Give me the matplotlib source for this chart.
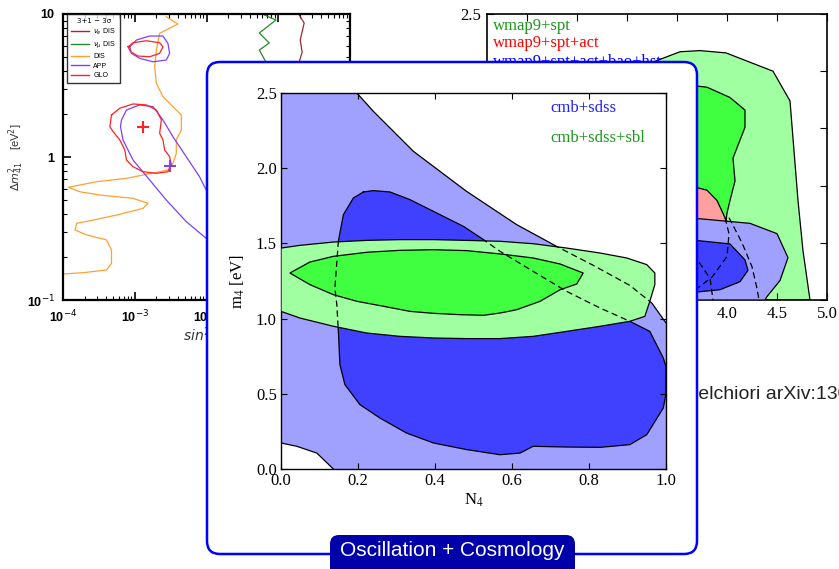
import numpy as np
import matplotlib.pyplot as plt
from matplotlib.patches import FancyBboxPatch, Polygon
from matplotlib.lines import Line2D

plt.rcParams['mathtext.fontset'] = 'stix'

# ---------------- 3+1 oscillation fit, 3 sigma (log10 sin^2, log10 dm^2_41) ----------------
dis_ls = [-2.560, -2.399, -2.653, -2.699, -2.722, -2.699, -2.607, -2.468, -2.351, -2.351,
          -2.421, -2.421, -2.468, -2.538, -2.653, -3.115, -3.532, -3.926, -3.764, -3.486,
          -3.024, -2.815, -2.885, -3.254, -3.579, -3.810, -3.833, -3.671, -3.393, -3.324,
          -3.324, -3.393, -3.718, -3.996]
dis_ldm = [0.981, 0.930, 0.865, 0.748, 0.631, 0.515, 0.422, 0.352, 0.294, 0.189,
           0.119, 0.026, -0.044, -0.091, -0.103, -0.149, -0.173, -0.212, -0.243, -0.266,
           -0.289, -0.324, -0.359, -0.406, -0.441, -0.464, -0.510, -0.545, -0.580, -0.650,
           -0.743, -0.790, -0.809, -0.818]

app_ls = [-2.004, -2.282, -2.560, -2.792, -3.024, -3.163, -3.199, -3.185, -3.115, -2.931,
          -2.746, -2.607, -2.468, -2.282, -2.097, -2.004]
app_ldm = [-0.569, -0.452, -0.301, -0.161, -0.021, 0.119, 0.212, 0.259, 0.329, 0.364,
           0.352, 0.259, 0.142, 0.002, -0.138, -0.231]
app_isl_ls = [-3.069, -2.976, -2.792, -2.607, -2.538, -2.514, -2.560, -2.746, -2.931, -3.046]
app_isl_ldm = [0.771, 0.818, 0.846, 0.846, 0.795, 0.725, 0.678, 0.666, 0.690, 0.725]

glo_ls = [-3.324, -3.208, -3.024, -2.838, -2.699, -2.629, -2.653, -2.607, -2.583, -2.514,
          -2.490, -2.538, -2.699, -2.885, -3.024, -3.115, -3.139, -3.208, -3.301, -3.347]
glo_ldm = [0.294, 0.341, 0.371, 0.364, 0.329, 0.259, 0.166, 0.119, 0.049, 0.002,
           -0.056, -0.103, -0.114, -0.103, -0.068, -0.021, 0.049, 0.119, 0.177, 0.212]
glo_isl_ls = [-3.093, -3.024, -2.838, -2.653, -2.607, -2.653, -2.792, -2.954, -3.060]
glo_isl_ldm = [0.771, 0.799, 0.813, 0.799, 0.771, 0.725, 0.701, 0.706, 0.736]

numu_ls = [-1.194, -1.032, -1.264, -1.125, -1.264, -1.171]
numu_ldm = [0.993, 0.958, 0.867, 0.797, 0.748, 0.664]
nue_ls = [-0.708, -0.639, -0.694, -0.667, -0.708]
nue_ldm = [0.993, 0.937, 0.818, 0.734, 0.664]

glo_best = (-2.885, 0.212)
app_best = (-2.514, -0.061)

# ---------------- CMB datasets, N_eff vs m_s ----------------
wspt95_neff = [3.00, 3.26, 3.53, 3.73, 3.99, 4.46, 4.63, 4.71, 4.76, 4.83, 3.00]
wspt95_m = [1.90, 2.08, 2.17, 2.18, 2.16, 2.00, 1.74, 0.87, 0.43, 0.00, 0.00]
wspt68_neff = [3.40, 3.70, 3.80, 4.03, 4.18, 4.18, 4.10, 4.06, 4.08, 4.03, 4.00, 3.90, 3.40]
wspt68_m = [1.85, 1.87, 1.86, 1.77, 1.66, 1.51, 1.33, 1.24, 1.04, 0.87, 0.76, 0.00, 0.00]
wact95_neff = [3.30, 3.71, 3.80, 3.90, 3.98, 4.30, 4.36, 3.30]
wact95_m = [1.20, 0.98, 0.96, 0.87, 0.72, 0.10, 0.00, 0.00]
wall95_neff = [3.00, 3.73, 4.23, 4.50, 4.61, 4.53, 4.40, 4.38, 3.00]
wall95_m = [0.71, 0.71, 0.67, 0.58, 0.37, 0.17, 0.03, 0.00, 0.00]
wall68_neff = [3.00, 3.70, 4.03, 4.18, 4.21, 4.13, 3.93, 3.70, 3.00]
wall68_m = [0.52, 0.52, 0.49, 0.35, 0.26, 0.16, 0.09, 0.07, 0.07]
dash_a_neff = [3.98, 4.02, 4.00, 3.85, 3.70]
dash_a_m = [0.72, 0.58, 0.38, 0.20, 0.10]
dash_b_neff = [4.02, 4.15, 4.25, 4.30, 4.32]
dash_b_m = [0.72, 0.50, 0.29, 0.10, 0.00]
dash_c_neff = [3.72, 3.83, 3.86]
dash_c_m = [0.33, 0.19, 0.00]

# ---------------- N_4 vs m_4 ----------------
sdss95_top_n4 = [0.197, 0.240, 0.344, 0.482, 0.612, 0.716, 0.811, 0.906, 0.963, 1.0]
sdss95_top_m4 = [2.5, 2.378, 2.112, 1.846, 1.625, 1.480, 1.354, 1.221, 1.104, 0.971]
sdss95_corner_n4 = [0.0, 0.041, 0.093, 0.136]
sdss95_corner_m4 = [0.173, 0.151, 0.106, 0.0]

sdss68_n4 = [0.214, 0.240, 0.283, 0.335, 0.396, 0.474, 0.526, 0.569, 0.655, 0.742,
             0.829, 0.906, 0.958, 0.993, 1.0, 1.0, 0.993, 0.950, 0.906, 0.829,
             0.742, 0.655, 0.621, 0.569, 0.482, 0.396, 0.326, 0.257, 0.205, 0.166,
             0.153, 0.149, 0.145, 0.140, 0.149, 0.162, 0.188]
sdss68_m4 = [1.842, 1.851, 1.842, 1.791, 1.713, 1.613, 1.525, 1.447, 1.314, 1.181,
             1.070, 0.982, 0.915, 0.738, 0.680, 0.500, 0.406, 0.228, 0.162, 0.144,
             0.146, 0.151, 0.106, 0.095, 0.129, 0.173, 0.239, 0.339, 0.428, 0.561,
             0.694, 0.915, 1.093, 1.203, 1.514, 1.691, 1.802]

sbl95_n4 = [0.0, 0.049, 0.136, 0.223, 0.309, 0.396, 0.482, 0.569, 0.655, 0.742,
            0.829, 0.898, 0.950, 0.971, 0.971, 0.958, 0.945, 0.906, 0.829, 0.742,
            0.655, 0.569, 0.482, 0.396, 0.309, 0.223, 0.136, 0.049, 0.0]
sbl95_m4 = [1.469, 1.487, 1.509, 1.520, 1.525, 1.525, 1.520, 1.514, 1.498, 1.469,
            1.436, 1.403, 1.359, 1.303, 1.226, 1.115, 1.015, 0.982, 0.949, 0.915,
            0.882, 0.867, 0.867, 0.871, 0.882, 0.904, 0.949, 1.004, 1.048]
sbl68_n4 = [0.023, 0.075, 0.136, 0.223, 0.309, 0.396, 0.482, 0.569, 0.655, 0.725,
            0.785, 0.768, 0.725, 0.673, 0.612, 0.569, 0.526, 0.465, 0.396, 0.335,
            0.266, 0.197, 0.136, 0.075]
sbl68_m4 = [1.303, 1.376, 1.414, 1.441, 1.454, 1.458, 1.452, 1.430, 1.403, 1.363,
            1.303, 1.230, 1.192, 1.115, 1.059, 1.037, 1.022, 1.026, 1.035, 1.048,
            1.082, 1.115, 1.159, 1.226]

LB, DB = '#a0a0ff', '#4040ff'
LG, DG = '#a0ffa0', '#40ff40'
LR = '#ff9f9f'
TXT_GREEN = '#1a9a1a'

W, H = 839, 569
fig = plt.figure(figsize=(W / 100, H / 100), dpi=100)


def px_rect(l, t, r, b):
    return [l / W, 1 - b / H, (r - l) / W, (b - t) / H]


def closed(xs, ys):
    return list(xs) + [xs[0]], list(ys) + [ys[0]]


# ---- left panel: sterile oscillation fit ----
axL = fig.add_axes(px_rect(63, 14, 350, 300))
axL.set_xscale('log')
axL.set_yscale('log')
lw = 0.9
axL.plot(10 ** np.array(dis_ls), 10 ** np.array(dis_ldm), color='#ffa030', lw=lw)
axL.plot(10 ** np.array(app_ls), 10 ** np.array(app_ldm), color='#7f3fff', lw=lw)
x, y = closed(app_isl_ls, app_isl_ldm)
axL.plot(10 ** np.array(x), 10 ** np.array(y), color='#7f3fff', lw=lw)
x, y = closed(glo_ls, glo_ldm)
axL.plot(10 ** np.array(x), 10 ** np.array(y), color='#ff2020', lw=lw)
x, y = closed(glo_isl_ls, glo_isl_ldm)
axL.plot(10 ** np.array(x), 10 ** np.array(y), color='#ff2020', lw=lw)
axL.plot(10 ** np.array(numu_ls), 10 ** np.array(numu_ldm), color='#2a8a2a', lw=lw)
axL.plot(10 ** np.array(nue_ls), 10 ** np.array(nue_ldm), color='#a02828', lw=lw)
axL.plot(10 ** glo_best[0], 10 ** glo_best[1], '+', color='#ff2020', ms=9, mew=1.5)
axL.plot(10 ** app_best[0], 10 ** app_best[1], '+', color='#7f3fff', ms=9, mew=1.5)
axL.set_xlim(1e-4, 1)
axL.set_ylim(0.1, 10)
axL.set_xticks([1e-4, 1e-3, 1e-2, 1e-1, 1])
axL.set_xticklabels(['10$^{-4}$', '10$^{-3}$', '10$^{-2}$', '10$^{-1}$', '1'],
                    fontweight='bold', family='Liberation Sans', math_fontfamily='dejavusans')
axL.set_yticks([0.1, 1, 10])
axL.set_yticklabels(['10$^{-1}$', '1', '10'],
                    fontweight='bold', family='Liberation Sans', math_fontfamily='dejavusans')
axL.tick_params(which='both', direction='in', top=True, right=True, labelsize=9)
axL.tick_params(which='major', length=6, width=1.2, pad=6)
axL.tick_params(which='minor', length=3, width=0.8)
for s in axL.spines.values():
    s.set_linewidth(1.6)
axL.set_ylabel(r'$\Delta m^2_{41}$    [eV$^2$]', fontsize=8,
               math_fontfamily='dejavusans', family='Liberation Sans', color='#333333')
axL.yaxis.set_label_coords(-0.128, 0.5)
handles = [Line2D([], [], color=c, lw=1) for c in
           ['#a02828', '#2a8a2a', '#ffa030', '#7f3fff', '#ff2020']]
labels = [r'$\nu_e$ DIS', r'$\nu_\mu$ DIS', 'DIS', 'APP', 'GLO']
leg = axL.legend(handles, labels, title='3+1 − 3σ', loc='upper left',
                 bbox_to_anchor=(0.014, 1.0), borderaxespad=0,
                 title_fontsize=5, fancybox=False, edgecolor='black',
                 handlelength=2.6, handletextpad=0.6, labelspacing=0.35, borderpad=0.6,
                 prop={'family': 'Liberation Sans', 'size': 5, 'math_fontfamily': 'dejavusans'})
leg.get_frame().set_linewidth(1.0)
fig.text(183 / W, 1 - 337 / H, r'$sin^2 2\vartheta_{e\mu}$', fontsize=10,
         ha='left', va='center', math_fontfamily='dejavusans', color='#333333', zorder=0.5)

# ---- right panel: CMB constraints ----
axR = fig.add_axes(px_rect(487, 14, 827, 300))
elw = 0.9
axR.fill(wspt95_neff, wspt95_m, facecolor=LG, edgecolor='k', lw=elw, zorder=1)
axR.fill(wspt68_neff, wspt68_m, facecolor=DG, edgecolor='k', lw=elw, zorder=2)
axR.fill(wact95_neff, wact95_m, facecolor=LR, edgecolor='k', lw=elw, zorder=2.5)
axR.fill(wall95_neff, wall95_m, facecolor=LB, edgecolor='k', lw=elw, zorder=3)
axR.fill(wall68_neff, wall68_m, facecolor=DB, edgecolor='k', lw=elw, zorder=4)
for xs, ys in [(dash_a_neff, dash_a_m), (dash_b_neff, dash_b_m), (dash_c_neff, dash_c_m)]:
    axR.plot(xs, ys, color='k', lw=0.9, ls=(0, (5, 3)), zorder=5)
axR.set_xlim(1.6, 5.0)
axR.set_ylim(0, 2.5)
axR.set_xticks(np.arange(2.0, 5.01, 0.5))
axR.set_yticks(np.arange(0, 2.51, 0.5))
axR.tick_params(direction='in', top=True, right=True, length=5, labelsize=12,
                labelfontfamily='Liberation Serif', pad=4)
for s in axR.spines.values():
    s.set_linewidth(1.2)
for yy, txt, col in [(0.958, 'wmap9+spt', TXT_GREEN), (0.899, 'wmap9+spt+act', '#ff0000'),
                     (0.832, 'wmap9+spt+act+bao+hst', '#0000ff')]:
    axR.text(0.018, yy, txt, color=col, transform=axR.transAxes, fontsize=12,
             family='Liberation Serif', va='center', zorder=6)

fig.text(682 / W, 1 - 399 / H, 'Melchiori arXiv:1307.0637', fontsize=14,
         family='Liberation Sans', color='#222222', ha='left', va='baseline', zorder=0.5)

# ---- front card ----
card = FancyBboxPatch((207 / 100, (H - 554) / 100), (697 - 207) / 100, (554 - 62) / 100,
                      boxstyle='round,pad=0,rounding_size=0.13',
                      transform=fig.dpi_scale_trans, facecolor='white',
                      edgecolor='#0000ff', lw=1.8, zorder=1)
fig.add_artist(card)

axM = fig.add_axes(px_rect(281, 93, 666, 469), zorder=2)
outer_x = [0.0, 0.0] + sdss95_top_n4 + [1.0] + sdss95_corner_n4[::-1]
outer_y = [sdss95_corner_m4[0], 2.5] + sdss95_top_m4 + [0.0] + sdss95_corner_m4[::-1]
axM.fill(outer_x, outer_y, facecolor=LB, lw=0, zorder=1)
axM.plot(sdss95_top_n4, sdss95_top_m4, color='k', lw=elw, zorder=2)
axM.plot(sdss95_corner_n4, sdss95_corner_m4, color='k', lw=elw, zorder=2)
x68, y68 = closed(sdss68_n4, sdss68_m4)
axM.fill(sdss68_n4, sdss68_m4, facecolor=DB, lw=0, zorder=1.5)
axM.plot(x68, y68, color='k', lw=elw, zorder=2)

sbl_patch = Polygon(np.column_stack([sbl95_n4, sbl95_m4]), closed=True,
                    facecolor=LG, edgecolor='k', lw=elw, zorder=3)
axM.add_patch(sbl_patch)
axM.fill(sbl68_n4, sbl68_m4, facecolor=DG, edgecolor='k', lw=elw, zorder=4)

# blue contours continue dashed across the green regions
for xs, ys in [(x68, y68), (sdss95_top_n4, sdss95_top_m4)]:
    ln, = axM.plot(xs, ys, color='k', lw=elw, ls=(0, (5, 3)), zorder=5)
    ln.set_clip_path(sbl_patch)

axM.set_xlim(0, 1)
axM.set_ylim(0, 2.5)
axM.set_xticks(np.arange(0, 1.01, 0.2))
axM.set_yticks(np.arange(0, 2.51, 0.5))
axM.tick_params(direction='in', top=True, right=True, length=4, labelsize=12,
                labelfontfamily='Liberation Serif', pad=3)
for s in axM.spines.values():
    s.set_linewidth(1.0)
axM.set_xlabel('N$_4$', fontsize=12, family='Liberation Serif', labelpad=2)
axM.set_ylabel('m$_4$ [eV]', fontsize=12, family='Liberation Serif', labelpad=6)
axM.text(0.699, 0.960, 'cmb+sdss', color='#2020ff', transform=axM.transAxes,
         fontsize=12, family='Liberation Serif', va='center', zorder=6)
axM.text(0.699, 0.880, 'cmb+sdss+sbl', color=TXT_GREEN, transform=axM.transAxes,
         fontsize=12, family='Liberation Serif', va='center', zorder=6)

tag = FancyBboxPatch((330 / 100, -0.2), (575 - 330) / 100, (H - 535) / 100 + 0.2,
                     boxstyle='round,pad=0,rounding_size=0.09',
                     transform=fig.dpi_scale_trans, facecolor='#0000aa',
                     edgecolor='none', zorder=3)
fig.add_artist(tag)
fig.text(452 / W, 1 - 551 / H, 'Oscillation + Cosmology', color='white', fontsize=15,
         family='Liberation Sans', ha='center', va='center', zorder=4)

fig.savefig('out.png', dpi=100)
